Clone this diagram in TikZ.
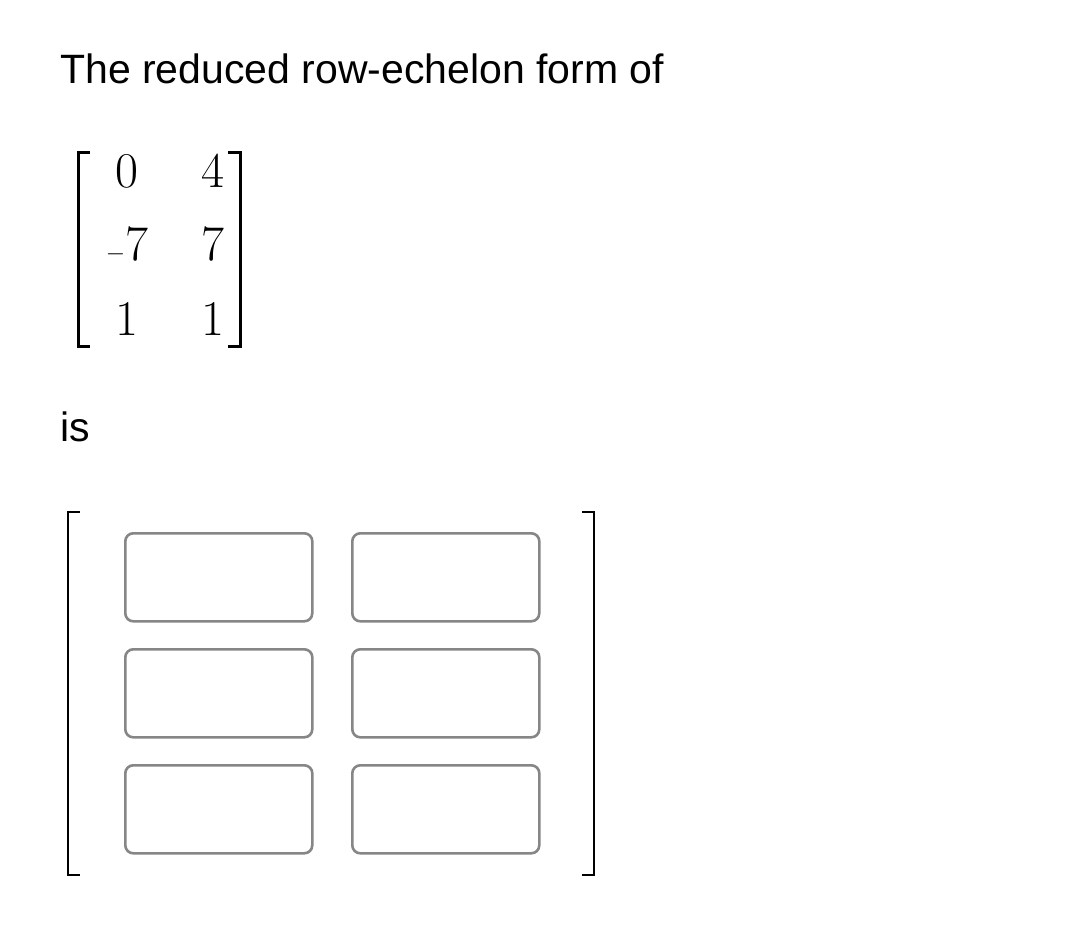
\documentclass[tikz,border=0pt]{standalone}
\usepackage{fontspec}
\setmainfont{Liberation Sans}
\newfontfamily\lmfont{Latin Modern Roman}
\begin{document}
\begin{tikzpicture}[x=1pt,y=-1pt,
  txt/.style={anchor=base west,inner sep=0pt,font=\fontsize{41}{48}\selectfont},
  ent/.style={anchor=base,inner sep=0pt,font=\lmfont\fontsize{50}{56}\selectfont},
  brk/.style={line width=3pt},
  ansbox/.style={draw=gray!95,line width=2.6pt,rounded corners=8pt,minimum width=187pt,minimum height=88pt,anchor=north west,inner sep=0pt}]
\useasboundingbox (0,0) rectangle (1080,937);
\node[txt] (t1) at (60,83) {The reduced row-echelon form of};
\node[txt] (t2) at (60,441) {is};
% given matrix
\draw[brk] (90,152) -- (78,152) -- (78,346) -- (90,346);
\draw[brk] (228,152) -- (240,152) -- (240,346) -- (228,346);
\node[ent] (a11) at (127,187) {0};
\node[ent] (a12) at (213,187) {4};
\node[ent] (a21) at (127,260) {$-$7};
\node[ent] (a22) at (213,260) {7};
\node[ent] (a31) at (127,335) {1};
\node[ent] (a32) at (213,335) {1};
% answer matrix
\draw[line width=2.5pt] (80,512) -- (68,512) -- (68,875) -- (80,875);
\draw[line width=2.5pt] (582,512) -- (594,512) -- (594,875) -- (582,875);
\node[ansbox] (b11) at (124,532) {};
\node[ansbox] (b12) at (351,532) {};
\node[ansbox] (b21) at (124,648) {};
\node[ansbox] (b22) at (351,648) {};
\node[ansbox] (b31) at (124,764) {};
\node[ansbox] (b32) at (351,764) {};
\end{tikzpicture}
\end{document}
